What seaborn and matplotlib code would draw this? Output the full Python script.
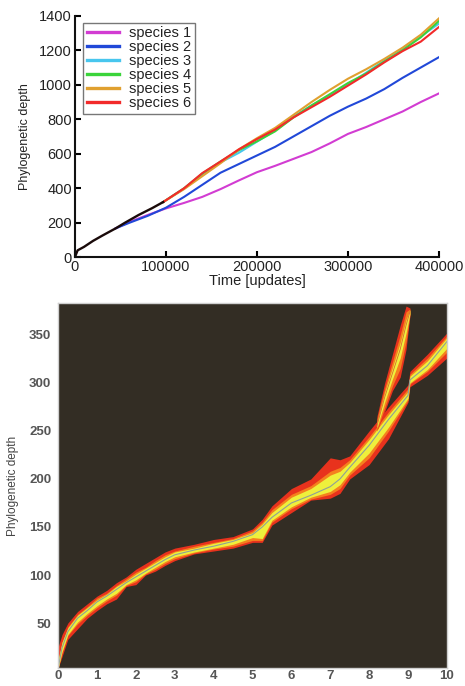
import numpy as np
import pandas as pd
import matplotlib
matplotlib.use("Agg")
import matplotlib.pyplot as plt
import seaborn as sns

# ---- top panel data: phylogenetic depth vs time ----
trunk_t = [0, 3000, 10000, 20000, 30000, 45000, 55000, 70000, 85000, 97000]
trunk_d = [0, 40, 60, 95, 125, 168, 200, 245, 285, 320]

early_t = [45000, 60000, 80000, 100000, 120000, 140000, 160000, 180000, 200000, 220000,
           240000, 260000, 280000, 300000, 320000, 340000, 360000, 380000, 400000]
species1 = [168, 205, 245, 283, 315, 350, 395, 445, 493, 530,
            570, 610, 660, 715, 755, 800, 845, 900, 950]
species2 = [168, 200, 240, 287, 350, 420, 490, 540, 590, 640,
            700, 760, 820, 873, 920, 975, 1040, 1100, 1160]

late_t = [97000, 120000, 140000, 160000, 180000, 200000, 220000, 240000, 260000,
          280000, 300000, 320000, 340000, 360000, 380000, 400000]
species3 = [320, 398, 480, 550, 605, 670, 735, 815, 880, 940, 1000, 1070, 1140, 1210, 1280, 1355]
species4 = [320, 400, 485, 555, 620, 672, 730, 810, 880, 945, 1010, 1065, 1135, 1200, 1275, 1370]
species5 = [320, 395, 470, 545, 625, 690, 750, 825, 900, 970, 1035, 1090, 1150, 1215, 1290, 1385]
species6 = [320, 400, 488, 555, 625, 685, 740, 810, 870, 930, 995, 1060, 1130, 1195, 1250, 1335]

species_names = ["species 1", "species 2", "species 3", "species 4", "species 5", "species 6"]
species_colors = ["#d23cd2", "#2148d8", "#48c6ee", "#3ad43a", "#e0a030", "#f22a2a"]

# ---- bottom panel data: lineage density band ----
band_x = [0, 0.1, 0.25, 0.5, 0.75, 1.0, 1.25, 1.5, 1.75, 2.0, 2.25, 2.5, 2.75, 3.0, 3.5,
          4.0, 4.5, 5.0, 5.25, 5.5, 6.0, 6.5, 7.0, 7.25, 7.5, 8.0, 8.5, 9.0, 9.05, 9.5, 10.0]
band_mid = [3, 24, 41, 55, 63, 72, 78, 85, 92, 98, 104, 110, 116, 121, 126,
            130, 135, 142, 150, 160, 175, 183, 192, 200, 212, 235, 262, 287, 303, 318, 343]
outer_hi = [25, 38, 50, 62, 70, 78, 84, 92, 98, 106, 112, 118, 124, 128, 132,
            137, 140, 148, 158, 172, 190, 200, 222, 220, 224, 250, 275, 298, 312, 330, 352]
outer_lo = [3, 15, 33, 44, 55, 63, 70, 75, 88, 90, 100, 104, 110, 115, 122,
            125, 128, 134, 134, 152, 165, 178, 180, 185, 200, 215, 242, 280, 296, 308, 326]
mid_hi = [10, 30, 46, 59, 67, 76, 81, 89, 96, 103, 108, 115, 121, 125, 130,
          134, 138, 146, 155, 168, 184, 193, 208, 212, 220, 244, 270, 294, 309, 326, 349]
mid_lo = [3, 19, 37, 49, 58, 66, 73, 79, 89, 93, 101, 106, 112, 117, 123,
          127, 130, 136, 136, 155, 169, 179, 184, 190, 204, 222, 250, 282, 299, 312, 332]
core_hi = [12, 30, 45, 58, 66, 74, 80, 88, 94, 101, 107, 113, 119, 124, 128,
           133, 137, 144, 153, 165, 181, 190, 204, 208, 217, 241, 267, 291, 307, 323, 347]
core_lo = [3, 20, 38, 51, 60, 68, 75, 81, 90, 95, 102, 108, 114, 119, 124,
           128, 132, 139, 138, 157, 171, 181, 187, 194, 207, 227, 254, 284, 300, 314, 336]

branch_x = [8.2, 8.4, 8.6, 8.8, 8.95, 9.05]
branch_mid = [255, 285, 310, 335, 360, 374]
branch_hi = [265, 300, 330, 360, 380, 378]
branch_lo = [250, 270, 292, 306, 335, 370]
branch_mid_hi = [262, 294, 322, 350, 374, 377]
branch_mid_lo = [251, 274, 297, 315, 343, 371]
branch_core_hi = [258, 290, 316, 342, 366, 376]
branch_core_lo = [253, 280, 304, 326, 352, 372]

plt.rcParams["font.family"] = ["Liberation Sans", "DejaVu Sans"]

fig = plt.figure(figsize=(4.65, 6.86), dpi=100)

# ---------------- top panel ----------------
ax1 = fig.add_axes([0.161, 0.625, 0.783, 0.352])
rows = []
for name, t, d in [("species 1", early_t, species1), ("species 2", early_t, species2),
                   ("species 3", late_t, species3), ("species 4", late_t, species4),
                   ("species 5", late_t, species5), ("species 6", late_t, species6)]:
    for ti, di in zip(t, d):
        rows.append({"time": ti, "depth": di, "species": name})
df = pd.DataFrame(rows)

sns.lineplot(data=df, x="time", y="depth", hue="species", hue_order=species_names,
             palette=species_colors, linewidth=1.5, ax=ax1, estimator=None, sort=False)
sns.lineplot(x=trunk_t, y=trunk_d, color="#1a0a0a", linewidth=1.7, ax=ax1,
             estimator=None, sort=False, legend=False)

ax1.set_xlim(0, 400000)
ax1.set_ylim(0, 1400)
ax1.set_xticks([0, 100000, 200000, 300000, 400000])
ax1.set_yticks(range(0, 1401, 200))
ax1.set_xlabel("Time [updates]", fontsize=10.5, color="#222222", labelpad=0)
ax1.set_ylabel("Phylogenetic depth", fontsize=9, color="#222222", labelpad=6)
for s in ["top", "right"]:
    ax1.spines[s].set_visible(False)
for s in ["left", "bottom"]:
    ax1.spines[s].set_linewidth(1.5)
    ax1.spines[s].set_color("#111111")
ax1.tick_params(direction="in", length=4, width=1.5, labelsize=10.5,
                labelcolor="#222222", pad=2)
handles, labels = ax1.get_legend_handles_labels()
for h in handles:
    h.set_linewidth(2.4)
leg = ax1.legend(handles, labels, loc="upper left", bbox_to_anchor=(0.022, 0.972),
                 fontsize=10.5, frameon=True, fancybox=False, handlelength=2.2,
                 labelspacing=0.0, borderpad=0.25, handletextpad=0.7,
                 borderaxespad=0)
leg.get_frame().set_edgecolor("#555555")
leg.get_frame().set_linewidth(1.0)
for txt in leg.get_texts():
    txt.set_color("#222222")

# ---------------- bottom panel ----------------
ax2 = fig.add_axes([0.125, 0.026, 0.836, 0.532])
ax2.set_facecolor("#332d24")
for xs, lo, hi, mlo, mhi, clo, chi in [
        (band_x, outer_lo, outer_hi, mid_lo, mid_hi, core_lo, core_hi),
        (branch_x, branch_lo, branch_hi, branch_mid_lo, branch_mid_hi,
         branch_core_lo, branch_core_hi)]:
    ax2.fill_between(xs, lo, hi, color="#e8321d", linewidth=0)
    ax2.fill_between(xs, mlo, mhi, color="#f5801e", linewidth=0)
    ax2.fill_between(xs, clo, chi, color="#eef03c", linewidth=0)
sns.lineplot(x=band_x, y=band_mid, color="#8fa098", linewidth=0.8, ax=ax2,
             estimator=None, sort=False)
sns.lineplot(x=branch_x, y=branch_mid, color="#d86a30", linewidth=0.6, ax=ax2,
             estimator=None, sort=False)

ax2.set_xlim(0, 10)
ax2.set_ylim(3, 383)
ax2.set_xticks(range(0, 11))
ax2.set_yticks([50, 100, 150, 200, 250, 300, 350])
ax2.set_ylabel("Phylogenetic depth", fontsize=8.5, color="#444444", labelpad=7)
ax2.tick_params(length=0, labelsize=9.5, labelcolor="#555555", pad=1.5)
ax2.tick_params(axis="y", pad=5)
for s in ax2.spines.values():
    s.set_color("#cfcfcf")
    s.set_linewidth(1.0)
for lab in ax2.get_xticklabels() + ax2.get_yticklabels():
    lab.set_fontweight("bold")

fig.savefig("out.png", dpi=100)
